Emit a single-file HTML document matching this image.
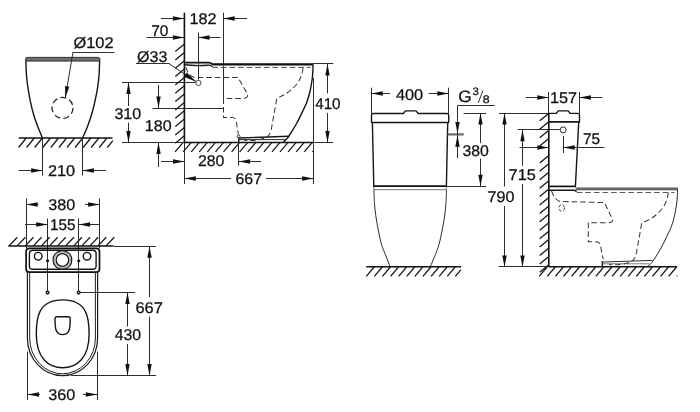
<!DOCTYPE html>
<html lang="en">
<head>
<meta charset="utf-8">
<title>WC dimensional drawing</title>
<style>
html,body{margin:0;padding:0;background:#fff;}
body{width:700px;height:412px;overflow:hidden;}
svg{display:block;will-change:transform;}
.o{fill:none;stroke:#161616;stroke-width:1.4;stroke-linecap:round;stroke-linejoin:round;}
.ob{fill:none;stroke:#111;stroke-width:1.7;stroke-linecap:butt;stroke-linejoin:round;}
.w{fill:none;stroke:#111;stroke-width:1.6;}
.g{fill:none;stroke:#111;stroke-width:1.5;}
.t{fill:none;stroke:#2e2e2e;stroke-width:1;}
.o3{fill:none;stroke:#1c1c1c;stroke-width:1.2;}
.o2{fill:none;stroke:#222;stroke-width:1;stroke-linecap:round;}
.tg{fill:none;stroke:#666;stroke-width:0.9;}
.h{fill:none;stroke:#1a1a1a;stroke-width:1.3;}
.d{fill:none;stroke:#383838;stroke-width:1.02;stroke-dasharray:5.6 3;}
.ds{fill:none;stroke:#333;stroke-width:0.9;stroke-dasharray:3.2 1.8;}
.a{fill:#111;stroke:none;}
.gr{fill:#707070;stroke:#222;stroke-width:0.9;}
.tx{text-rendering:geometricPrecision;font-family:"Liberation Sans",Arial,Helvetica,sans-serif;fill:#111;stroke:#111;stroke-width:.26;}
</style>
</head>
<body>
<svg width="700" height="412" viewBox="0 0 700 412">
<rect x="0" y="0" width="700" height="412" fill="#ffffff"/>

<g id="front-bowl">
<path class="gr" d="M27 57.4H98.6Q100 57.4 100 59.3Q100 61.1 98.6 61.1H27Q25.5 61.1 25.5 59.3Q25.5 57.4 27 57.4Z"/>
<path class="o" d="M25.9 60.9C25.98 63.13 26.07 69.83 26.4 74.3C26.73 78.77 27.25 83.23 27.9 87.7C28.55 92.17 29.35 96.63 30.3 101.1C31.25 105.57 32.35 110.22 33.6 114.5C34.85 118.78 36.32 122.88 37.8 126.8C39.28 130.72 41.72 136.13 42.5 138"/>
<path class="o" d="M99.6 60.9C99.52 63.13 99.43 69.83 99.1 74.3C98.77 78.77 98.28 83.23 97.6 87.7C96.92 92.17 96 96.63 95 101.1C94 105.57 92.87 110.22 91.6 114.5C90.33 118.78 88.9 122.88 87.4 126.8C85.9 130.72 83.4 136.13 82.6 138"/>
<circle class="d" cx="62.5" cy="107.9" r="10.5" style="stroke:#222;stroke-width:1.25;stroke-dasharray:6 3.4"/>
<line class="t" x1="73" y1="52.5" x2="114.5" y2="52.5"/>
<line class="t" x1="73" y1="52" x2="65.3" y2="97.6"/>
<polygon class="a" points="65.3,97.6 65.03,85.99 69.37,86.73"/>
<text class="tx" transform="translate(73.45 48.1) scale(1.0596 1)" font-size="15.5">Ø102</text>
<line class="g" x1="18.75" y1="138" x2="112.5" y2="138"/>
<path class="h" d="M26.25 138L18.55 147.5M34.32 138L26.62 147.5M42.39 138L34.69 147.5M50.46 138L42.76 147.5M58.53 138L50.83 147.5M66.6 138L58.9 147.5M74.67 138L66.97 147.5M82.74 138L75.04 147.5M90.81 138L83.11 147.5M98.88 138L91.18 147.5M106.95 138L99.25 147.5M112.9 140.62L107.32 147.5"/>
<line class="t" x1="42.5" y1="138.8" x2="42.5" y2="175.5"/>
<line class="t" x1="82.5" y1="138.8" x2="82.5" y2="175.5"/>
<line class="t" x1="18.75" y1="170.5" x2="42.5" y2="170.5"/>
<polygon class="a" points="42.5,170.5 31.1,172.7 31.1,168.3"/>
<line class="t" x1="106" y1="170.5" x2="82.5" y2="170.5"/>
<polygon class="a" points="82.5,170.5 93.9,168.3 93.9,172.7"/>
<text class="tx" transform="translate(47.94 175.8) scale(1.0514 1)" font-size="15.5">210</text>
</g>
<g id="side-bowl">
<line class="t" x1="122" y1="82.5" x2="195.4" y2="82.5"/>
<line class="t" x1="122" y1="142.5" x2="184.5" y2="142.5"/>
<line class="t" x1="128.5" y1="106" x2="128.5" y2="82.5"/>
<polygon class="a" points="128.5,82.5 130.7,93.9 126.3,93.9"/>
<line class="t" x1="128.5" y1="122.5" x2="128.5" y2="142.5"/>
<polygon class="a" points="128.5,142.5 126.3,131.1 130.7,131.1"/>
<text class="tx" transform="translate(114.4 118.8) scale(1.0331 1)" font-size="15.5">310</text>
<line class="t" x1="152.5" y1="108.5" x2="223.4" y2="108.5"/>
<line class="t" x1="158.5" y1="85" x2="158.5" y2="108"/>
<polygon class="a" points="158.5,108 156.3,96.6 160.7,96.6"/>
<line class="t" x1="158.5" y1="167" x2="158.5" y2="142.5"/>
<polygon class="a" points="158.5,142.5 160.7,153.9 156.3,153.9"/>
<text class="tx" transform="translate(144.79 131.3) scale(1.0372 1)" font-size="15.5">180</text>
<line class="t" x1="146.4" y1="37.5" x2="184.3" y2="37.5"/>
<polygon class="a" points="184.3,37.5 172.9,39.7 172.9,35.3"/>
<line class="t" x1="220.5" y1="37.5" x2="198.1" y2="37.5"/>
<polygon class="a" points="198.1,37.5 209.5,35.3 209.5,39.7"/>
<line class="t" x1="198.5" y1="32.6" x2="198.5" y2="79.6"/>
<text class="tx" transform="translate(151.21 35.6) scale(0.9969 1)" font-size="15.5">70</text>
<line class="t" x1="161" y1="18.5" x2="184.3" y2="18.5"/>
<polygon class="a" points="184.3,18.5 172.9,20.7 172.9,16.3"/>
<line class="t" x1="247" y1="18.5" x2="223.3" y2="18.5"/>
<polygon class="a" points="223.3,18.5 234.7,16.3 234.7,20.7"/>
<line class="t" x1="223.5" y1="12.7" x2="223.5" y2="98"/>
<text class="tx" transform="translate(189.39 24.3) scale(1.0448 1)" font-size="15.5">182</text>
<text class="tx" transform="translate(137.06 61.7) scale(1.0323 1)" font-size="15.5">Ø33</text>
<line class="t" x1="136" y1="63.5" x2="169.4" y2="63.5"/>
<line class="t" x1="169" y1="63.7" x2="195.9" y2="81.6"/>
<polygon class="a" points="196.2,81.8 183.94,76.76 186.82,72.43"/>
<circle class="t" cx="198.4" cy="82.9" r="2.6" style="stroke-width:1;stroke:#444"/>
<line class="w" x1="184.4" y1="12.7" x2="184.4" y2="142.5"/>
<line class="t" x1="184.5" y1="142.5" x2="184.5" y2="184"/>
<path class="h" d="M184.4 44.1L175.3 51.6M184.4 52.43L175.3 59.93M184.4 60.76L175.3 68.26M184.4 69.09L175.3 76.59M184.4 77.42L175.3 84.92M184.4 85.75L175.3 93.25M184.4 94.08L175.3 101.58M184.4 102.41L175.3 109.91M184.4 110.74L175.3 118.24M184.4 119.07L175.3 126.57M184.4 127.4L175.3 134.9M184.4 135.73L175.3 143.23"/>
<line class="g" x1="184.4" y1="142.5" x2="313" y2="142.5"/>
<line class="t" x1="313" y1="142.5" x2="333" y2="142.5"/>
<path class="h" d="M183 142.6L175.1 151.9M191.07 142.6L183.17 151.9M199.14 142.6L191.24 151.9M207.21 142.6L199.31 151.9M215.28 142.6L207.38 151.9M223.35 142.6L215.45 151.9M231.42 142.6L223.52 151.9M239.49 142.6L231.59 151.9M247.56 142.6L239.66 151.9M255.63 142.6L247.73 151.9M263.7 142.6L255.8 151.9M271.77 142.6L263.87 151.9M279.84 142.6L271.94 151.9M287.91 142.6L280.01 151.9M295.98 142.6L288.08 151.9M304.05 142.6L296.15 151.9M312.12 142.6L304.22 151.9M313 151.06L312.29 151.9"/>
<path class="ob" d="M184.4 62.6H208.6Q210.6 62.6 212.4 64.2H312.9"/>
<path class="o" d="M184.6 64.8Q196 66.2 207.5 65.2Q210.5 65 212 66.2"/>
<line class="t" x1="312.9" y1="63.5" x2="333.3" y2="63.5"/>
<line class="tg" x1="212.6" y1="65.6" x2="312.4" y2="65.6"/>
<path class="d" d="M212.3 67.5H310.5" style="stroke:#5a5a5a"/>
<path class="o" d="M313 64.4C312.98 65.33 313.02 67.73 312.9 70C312.78 72.27 312.73 74.67 312.3 78C311.87 81.33 311.2 86 310.3 90C309.4 94 308.12 98.57 306.9 102C305.68 105.43 304.7 107.06 303 110.6C301.3 114.14 299.03 119.02 296.7 123.25C294.37 127.48 290.75 133.31 289 136C287.25 138.69 287.13 138.42 286.2 139.4C285.27 140.38 283.87 141.48 283.4 141.9"/>
<line class="t" x1="313.5" y1="77.8" x2="313.5" y2="184"/>
<path class="o" d="M238.7 142.3V137.6"/>
<path class="o" d="M240 138L288.4 136.2"/>
<path class="t" d="M238.8 139.6H285"/>
<circle class="t" cx="238.6" cy="136.4" r="1.4" style="stroke-width:1"/>
<path class="d" d="M185.7 67Q188.5 75.8 195 77.5H238L247.4 93.8Q248.6 98.3 243 98.5H223.5V117.5H232.5Q235.4 117.5 236.2 121.5L238.4 134.4"/>
<path class="d" d="M303 67.8Q302.2 77 296.5 84.5Q289 93.5 276.8 98.3L271.3 129.4Q270.3 135 266.5 137.2Q258 141.3 244 140.3"/>
<line class="t" x1="327.5" y1="93.5" x2="327.5" y2="64"/>
<polygon class="a" points="327.5,64 329.7,75.4 325.3,75.4"/>
<line class="t" x1="327.5" y1="113" x2="327.5" y2="142.4"/>
<polygon class="a" points="327.5,142.4 325.3,131 329.7,131"/>
<text class="tx" transform="translate(315.16 108.9) scale(0.9833 1)" font-size="15.5">410</text>
<line class="t" x1="161" y1="161.5" x2="184.4" y2="161.5"/>
<polygon class="a" points="184.4,161.5 173,163.7 173,159.3"/>
<line class="t" x1="261" y1="161.5" x2="238.75" y2="161.5"/>
<polygon class="a" points="238.75,161.5 250.15,159.3 250.15,163.7"/>
<line class="t" x1="238.5" y1="143.2" x2="238.5" y2="165.5"/>
<text class="tx" transform="translate(197.96 166.3) scale(1.0208 1)" font-size="15.5">280</text>
<line class="t" x1="231" y1="178.5" x2="184.4" y2="178.5"/>
<polygon class="a" points="184.4,178.5 195.8,176.3 195.8,180.7"/>
<line class="t" x1="266" y1="178.5" x2="313.5" y2="178.5"/>
<polygon class="a" points="313.5,178.5 302.1,180.7 302.1,176.3"/>
<text class="tx" transform="translate(235.45 183.8) scale(1.0281 1)" font-size="15.5">667</text>
</g>
<g id="front-cistern">
<line class="t" x1="371.5" y1="87.7" x2="371.5" y2="113.3"/>
<line class="t" x1="448.5" y1="87.7" x2="448.5" y2="113.3"/>
<line class="t" x1="390" y1="93.5" x2="371.4" y2="93.5"/>
<polygon class="a" points="371.4,93.5 382.8,91.3 382.8,95.7"/>
<line class="t" x1="428.75" y1="93.5" x2="448.7" y2="93.5"/>
<polygon class="a" points="448.7,93.5 437.3,95.7 437.3,91.3"/>
<text class="tx" transform="translate(395.88 99.8) scale(1.0535 1)" font-size="15.5">400</text>
<path class="o" d="M371.5 122.4V115.2Q371.5 113.5 373.2 113.5H403.3L405.5 110.9H416L418.2 113.5H447Q448.7 113.5 448.7 115.2V122.4"/>
<line class="ob" x1="371.2" y1="122.5" x2="449" y2="122.5"/>
<path class="o" d="M372.4 123L373.8 186.2"/>
<path class="o" d="M447.7 123L446.4 186.2"/>
<line class="ob" x1="373.4" y1="186.2" x2="446.8" y2="186.2"/>
<path class="tg" d="M373.9 187V189.7H446.3V187"/>
<path class="t" d="M373.9 189.8C373.98 191.88 374.08 197.98 374.4 202.3C374.72 206.62 375.18 211.23 375.8 215.7C376.42 220.17 377.13 224.27 378.1 229.1C379.07 233.93 380.3 240.23 381.6 244.7C382.9 249.17 384.5 252.25 385.9 255.9C387.3 259.55 389.32 264.82 390 266.6"/>
<path class="t" d="M446.5 189.8C446.42 191.88 446.3 197.98 446 202.3C445.7 206.62 445.3 211.23 444.7 215.7C444.1 220.17 443.37 224.27 442.4 229.1C441.43 233.93 440.17 240.23 438.9 244.7C437.63 249.17 436.22 252.25 434.8 255.9C433.38 259.55 431.13 264.82 430.4 266.6"/>
<line class="g" x1="366.25" y1="266.8" x2="461.25" y2="266.8"/>
<path class="h" d="M374.15 267L366.25 276.3M382.25 267L374.35 276.3M390.35 267L382.45 276.3M398.45 267L390.55 276.3M406.55 267L398.65 276.3M414.65 267L406.75 276.3M422.75 267L414.85 276.3M430.85 267L422.95 276.3M438.95 267L431.05 276.3M447.05 267L439.15 276.3M455.15 267L447.25 276.3M461 269.65L455.35 276.3"/>
<line x1="447.7" y1="134.4" x2="463.8" y2="134.4" stroke="#6a6a6a" stroke-width="2.2"/>
<path class="t" d="M494.7 105.5H457.5V158"/>
<polygon class="a" points="457.5,133.5 455.3,122.1 459.7,122.1"/>
<polygon class="a" points="457.5,135.3 459.7,146.7 455.3,146.7"/>
<text class="tx" transform="translate(458.24 102) scale(1.0476 1)" font-size="16.5">G</text>
<text class="tx" transform="translate(472.57 95.1) scale(1.0526 1)" font-size="10.8">3</text>
<line class="t" x1="478.3" y1="102.8" x2="482.9" y2="90.6"/>
<text class="tx" transform="translate(482.68 102.5) scale(1.1189 1)" font-size="11">8</text>
<line class="t" x1="463.6" y1="113.5" x2="486.2" y2="113.5"/>
<line class="t" x1="446.8" y1="186.5" x2="486.2" y2="186.5"/>
<line class="t" x1="480.5" y1="143" x2="480.5" y2="113.2"/>
<polygon class="a" points="480.5,113.2 482.7,124.6 478.3,124.6"/>
<line class="t" x1="480.5" y1="158.5" x2="480.5" y2="186.2"/>
<polygon class="a" points="480.5,186.2 478.3,174.8 482.7,174.8"/>
<text class="tx" transform="translate(462.41 155.8) scale(1.0229 1)" font-size="15.5">380</text>
<line class="t" x1="499" y1="113.5" x2="548.7" y2="113.5"/>
<line class="t" x1="504.5" y1="186.5" x2="504.5" y2="113.2"/>
<polygon class="a" points="504.5,113.2 506.7,124.6 502.3,124.6"/>
<line class="t" x1="504.5" y1="206" x2="504.5" y2="266.8"/>
<polygon class="a" points="504.5,266.8 502.3,255.4 506.7,255.4"/>
<text class="tx" transform="translate(487.42 201.55) scale(1.0421 1)" font-size="15.5">790</text>
<line class="t" x1="517.6" y1="129.5" x2="559.8" y2="129.5"/>
<line class="t" x1="522.5" y1="165.8" x2="522.5" y2="129.8"/>
<polygon class="a" points="522.5,129.8 524.7,141.2 520.3,141.2"/>
<line class="t" x1="522.5" y1="184" x2="522.5" y2="266.8"/>
<polygon class="a" points="522.5,266.8 520.3,255.4 524.7,255.4"/>
<text class="tx" transform="translate(508.56 180.05) scale(1.0519 1)" font-size="15.5">715</text>
<line class="t" x1="498.75" y1="266.5" x2="549" y2="266.5"/>
</g>
<g id="side-cistern">
<line class="t" x1="525.7" y1="97.5" x2="548.7" y2="97.5"/>
<polygon class="a" points="548.7,97.5 537.3,99.7 537.3,95.3"/>
<line class="t" x1="602.5" y1="97.5" x2="579.5" y2="97.5"/>
<polygon class="a" points="579.5,97.5 590.9,95.3 590.9,99.7"/>
<line class="t" x1="548.5" y1="92" x2="548.5" y2="113"/>
<line class="t" x1="579.5" y1="92" x2="579.5" y2="113.5"/>
<text class="tx" transform="translate(550.04 103.3) scale(1.0448 1)" font-size="15.5">157</text>
<line class="w" x1="548.8" y1="113" x2="548.8" y2="266.8"/>
<path class="h" d="M548.8 113.3L539.7 120.8M548.8 121.72L539.7 129.22M548.8 130.14L539.7 137.64M548.8 138.56L539.7 146.06M548.8 155.4L539.7 162.9M548.8 163.82L539.7 171.32M548.8 172.24L539.7 179.74M548.8 180.66L539.7 188.16M548.8 189.08L539.7 196.58M548.8 197.5L539.7 205M548.8 205.92L539.7 213.42M548.8 214.34L539.7 221.84M548.8 222.76L539.7 230.26M548.8 231.18L539.7 238.68M548.8 239.6L539.7 247.1M548.8 248.02L539.7 255.52M548.8 256.44L539.7 263.94M548.8 264.86L539.7 272.36"/>
<path class="o" d="M548.8 113.4H556.4L558.2 110.9H568.2L570 113.4H577.8Q579.5 113.4 579.5 115.1V121.8"/>
<line class="ob" x1="548.8" y1="121.9" x2="579.8" y2="121.9"/>
<path class="o" d="M578.7 122.5L575.4 186.4"/>
<line class="ob" x1="548.8" y1="186.4" x2="575.6" y2="186.4"/>
<path class="o" d="M548.8 190.2H573.5Q575.3 190.2 576.2 191.2"/>
<circle class="t" cx="563.1" cy="129.9" r="3" style="stroke-width:1"/>
<line class="t" x1="563.5" y1="136" x2="563.5" y2="153"/>
<line class="t" x1="519.5" y1="147.5" x2="548.7" y2="147.5"/>
<polygon class="a" points="548.7,147.5 537.3,149.7 537.3,145.3"/>
<line class="t" x1="604.5" y1="147.5" x2="563.3" y2="147.5"/>
<polygon class="a" points="563.3,147.5 574.7,145.3 574.7,149.7"/>
<text class="tx" transform="translate(582.91 143.8) scale(0.9930 1)" font-size="15.5">75</text>
<path d="M575.6 188.9H677.4" stroke="#8c8c8c" stroke-width="2.4" fill="none"/>
<path d="M575.6 188.1H677.6M576 189.8H677.3" stroke="#4a4a4a" stroke-width="0.9" fill="none"/>
<path class="d" d="M576.7 192.5H674.6" style="stroke:#5a5a5a"/>
<path class="o2" d="M677.5 188.8C677.48 189.73 677.52 192.13 677.4 194.4C677.28 196.67 677.23 199.07 676.8 202.4C676.37 205.73 675.7 210.4 674.8 214.4C673.9 218.4 672.62 222.97 671.4 226.4C670.18 229.83 669.2 231.46 667.5 235C665.8 238.54 663.53 243.42 661.2 247.65C658.87 251.88 655.25 257.71 653.5 260.4C651.75 263.09 651.63 262.82 650.7 263.8C649.77 264.78 648.37 265.88 647.9 266.3"/>
<path class="o" d="M602.3 266.6V261.6"/>
<path class="t" d="M603 262L652.5 260.4"/>
<path class="tg" d="M602.4 263.8H649.4"/>
<path class="d" d="M551.4 190.6Q554.6 199.8 560 201.4L604.4 202.6L612.3 219Q613.5 222.6 608 222.8H588.3V241.7H596.5Q599.6 241.7 600.4 245.5L603.2 259.5"/>
<path class="d" d="M668.2 192.6Q667.6 202 661.5 209.5Q654 218.6 641.8 222.8L636.2 254Q635.2 259.5 631.5 261.5Q623 265.5 609 264.6"/>
<ellipse class="ds" cx="561.7" cy="207.9" rx="2.8" ry="3.3"/>
<line class="g" x1="548.8" y1="266.8" x2="677.2" y2="266.8"/>
<path class="h" d="M547.1 267L539.2 276.3M555.19 267L547.29 276.3M563.28 267L555.38 276.3M571.37 267L563.47 276.3M579.46 267L571.56 276.3M587.55 267L579.65 276.3M595.64 267L587.74 276.3M603.73 267L595.83 276.3M611.82 267L603.92 276.3M619.91 267L612.01 276.3M628 267L620.1 276.3M636.09 267L628.19 276.3M644.18 267L636.28 276.3M652.27 267L644.37 276.3M660.36 267L652.46 276.3M668.45 267L660.55 276.3M676.54 267L668.64 276.3M677.3 275.63L676.73 276.3"/>
</g>
<g id="top-view">
<line class="t" x1="26.5" y1="198.5" x2="26.5" y2="248.2"/>
<line class="t" x1="99.5" y1="198.5" x2="99.5" y2="248.2"/>
<line class="t" x1="38.5" y1="204.5" x2="26.25" y2="204.5"/>
<polygon class="a" points="26.25,204.5 37.65,202.3 37.65,206.7"/>
<line class="t" x1="85" y1="204.5" x2="99.5" y2="204.5"/>
<polygon class="a" points="99.5,204.5 88.1,206.7 88.1,202.3"/>
<text class="tx" transform="translate(48.14 210.05) scale(1.0432 1)" font-size="15.5">380</text>
<line class="t" x1="47.5" y1="218.5" x2="47.5" y2="291"/>
<line class="t" x1="78.5" y1="218.5" x2="78.5" y2="291"/>
<line class="t" x1="25" y1="224.5" x2="47.6" y2="224.5"/>
<polygon class="a" points="47.6,224.5 36.2,226.7 36.2,222.3"/>
<line class="t" x1="100" y1="224.5" x2="78.7" y2="224.5"/>
<polygon class="a" points="78.7,224.5 90.1,222.3 90.1,226.7"/>
<text class="tx" transform="translate(50.1 230.05) scale(0.9870 1)" font-size="15.5">155</text>
<line class="g" x1="8.3" y1="245.9" x2="113.5" y2="245.9"/>
<path class="h" d="M9.1 245.9l8.2 -8.7M17.18 245.9l8.2 -8.7M25.26 245.9l8.2 -8.7M33.34 245.9l8.2 -8.7M41.42 245.9l8.2 -8.7M49.5 245.9l8.2 -8.7M57.58 245.9l8.2 -8.7M65.66 245.9l8.2 -8.7M73.74 245.9l8.2 -8.7M81.82 245.9l8.2 -8.7M89.9 245.9l8.2 -8.7M97.98 245.9l8.2 -8.7M106.06 245.9l8.2 -8.7"/>
<rect class="ob" x="26.1" y="248.3" width="73.4" height="23.9" rx="3.2" ry="3.2"/>
<rect class="o" x="29.4" y="250.3" width="66.7" height="19" rx="3.4" ry="3.4"/>
<circle class="o" cx="38.2" cy="256.2" r="3.8"/>
<circle class="o" cx="87" cy="256.2" r="3.8"/>
<circle class="o" cx="62.4" cy="260" r="9.4" style="stroke-width:1.2"/>
<circle class="o" cx="62.4" cy="260" r="8" style="stroke-width:.6;stroke:#555"/>
<circle class="o" cx="62.4" cy="260" r="6.3" style="stroke-width:1.3"/>
<circle class="a" cx="47.6" cy="260.7" r="1.5"/>
<circle class="a" cx="78.7" cy="260.7" r="1.5"/>
<circle class="o" cx="47.6" cy="292.6" r="1.35" style="fill:#fff"/>
<circle class="o" cx="78.7" cy="292.6" r="1.35" style="fill:#fff"/>
<path class="o3" d="M27.4 272V338A35.1 37.7 0 0 0 97.6 338V272"/>
<path class="o2" d="M29.7 272.4V338A32.85 35.8 0 0 0 95.4 338V272.4"/>
<path class="o" d="M36.3 334C36.3 318.3 37.9 299.9 62.7 299.9C87.5 299.9 89.1 318.3 89.1 334C89.1 358.4 76.6 367.8 62.7 367.8C48.8 367.8 36.3 358.4 36.3 334Z"/>
<path class="o" d="M55 318.6Q55 316.7 57 316.7H68.2Q70.2 316.7 70.2 318.6L70 325.5Q69.6 334.6 62.6 334.6Q55.6 334.6 55.2 325.5Z"/>
<line class="t" x1="113.75" y1="246.5" x2="156" y2="246.5"/>
<line class="t" x1="71" y1="375.5" x2="156" y2="375.5"/>
<line class="t" x1="149.5" y1="297" x2="149.5" y2="246.4"/>
<polygon class="a" points="149.5,246.4 151.7,257.8 147.3,257.8"/>
<line class="t" x1="149.5" y1="316.5" x2="149.5" y2="375.4"/>
<polygon class="a" points="149.5,375.4 147.3,364 151.7,364"/>
<text class="tx" transform="translate(135.43 312.7) scale(1.0590 1)" font-size="15.5">667</text>
<line class="t" x1="80.4" y1="292.5" x2="135" y2="292.5"/>
<line class="t" x1="127.5" y1="326.5" x2="127.5" y2="292.6"/>
<polygon class="a" points="127.5,292.6 129.7,304 125.3,304"/>
<line class="t" x1="127.5" y1="344" x2="127.5" y2="375.4"/>
<polygon class="a" points="127.5,375.4 125.3,364 129.7,364"/>
<text class="tx" transform="translate(114.64 339.8) scale(1.0234 1)" font-size="15.5">430</text>
<line class="t" x1="27.5" y1="351.5" x2="27.5" y2="400"/>
<line class="t" x1="97.5" y1="351.5" x2="97.5" y2="400"/>
<line class="t" x1="40" y1="394.5" x2="27.6" y2="394.5"/>
<polygon class="a" points="27.6,394.5 39,392.3 39,396.7"/>
<line class="t" x1="83" y1="394.5" x2="97.2" y2="394.5"/>
<polygon class="a" points="97.2,394.5 85.8,396.7 85.8,392.3"/>
<text class="tx" transform="translate(48.14 399.8) scale(1.0432 1)" font-size="15.5">360</text>
</g>
</svg>
</body>
</html>
